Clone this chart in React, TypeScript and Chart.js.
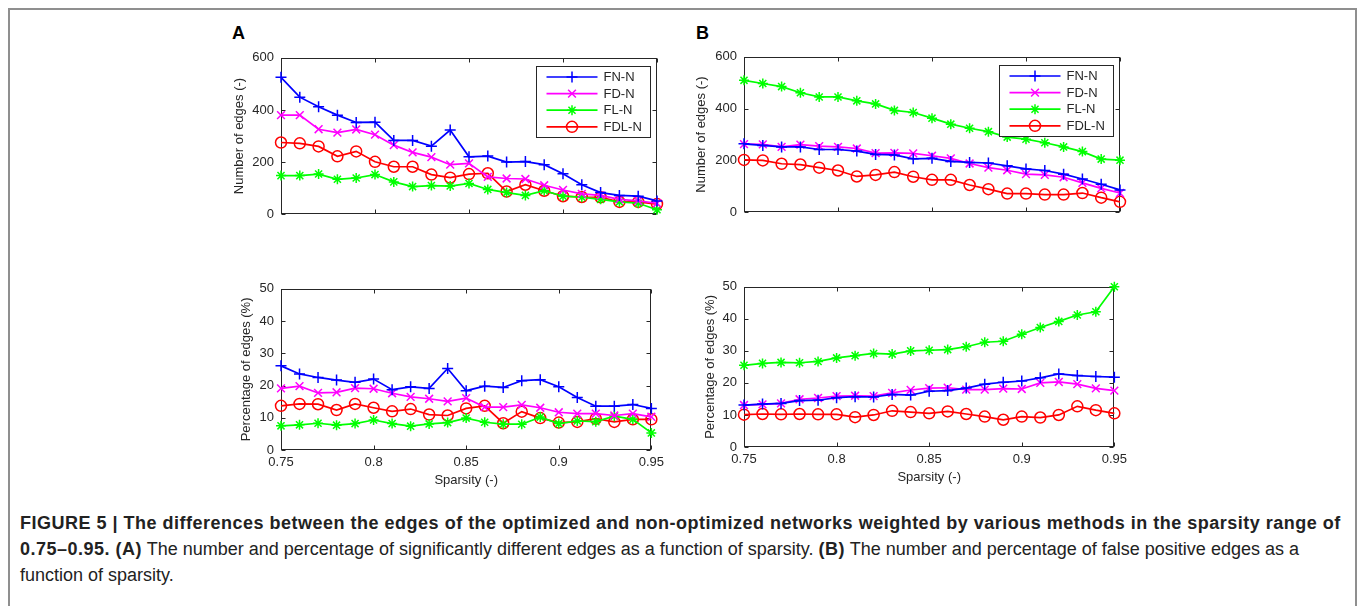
import React, { useEffect, useRef } from 'react';
import { Chart, registerables } from 'chart.js';

Chart.register(...registerables);

// ---------------- data ----------------
const sparsity = [0.75, 0.76, 0.77, 0.78, 0.79, 0.8, 0.81, 0.82, 0.83, 0.84, 0.85, 0.86, 0.87, 0.88, 0.89, 0.9, 0.91, 0.92, 0.93, 0.94, 0.95];
const xTickValues = [0.75, 0.8, 0.85, 0.9, 0.95];
const xTickLabels = ['0.75', '0.8', '0.85', '0.9', '0.95'];
const countTicks = [0, 200, 400, 600];
const pctTicks = [0, 10, 20, 30, 40, 50];
const seriesNames = ['FN-N', 'FD-N', 'FL-N', 'FDL-N'];

// Panel A – number of edges
const aCountFN = [525, 449, 412, 380, 352, 353, 283, 283, 261, 323, 220, 223, 200, 202, 190, 155, 113, 83, 72, 69, 51];
const aCountFD = [380, 380, 326, 313, 325, 305, 265, 237, 219, 190, 195, 143, 137, 135, 111, 93, 78, 72, 57, 51, 42];
const aCountFL = [148, 148, 154, 134, 139, 152, 124, 106, 110, 108, 118, 95, 83, 72, 90, 69, 65, 57, 47, 42, 17];
const aCountFDL = [275, 272, 260, 222, 241, 201, 182, 182, 152, 140, 154, 157, 87, 113, 90, 69, 66, 65, 47, 47, 39];

// Panel A – percentage of edges
const aPctFN = [26.1, 23.6, 22.5, 21.7, 21.0, 22.0, 18.7, 19.6, 19.1, 25.3, 18.4, 19.8, 19.4, 21.5, 21.8, 19.6, 16.3, 13.6, 13.6, 14.1, 12.9];
const aPctFD = [19.1, 19.8, 17.7, 17.9, 19.2, 19.0, 17.6, 16.5, 15.9, 15.1, 16.1, 13.3, 13.3, 14.0, 13.1, 11.7, 11.3, 11.3, 10.7, 11.3, 10.3];
const aPctFL = [7.5, 7.8, 8.3, 7.7, 8.2, 9.3, 8.2, 7.4, 8.1, 8.5, 9.9, 8.6, 8.0, 8.0, 10.2, 8.2, 9.0, 8.8, 10.5, 9.5, 5.3];
const aPctFDL = [13.7, 14.3, 14.2, 12.4, 14.3, 13.1, 12.0, 12.7, 11.0, 10.7, 12.9, 13.7, 8.3, 11.9, 9.9, 8.5, 8.7, 9.7, 8.7, 9.5, 9.5];

// Panel B – number of edges
const bCountFN = [264, 258, 252, 252, 242, 242, 236, 223, 221, 206, 208, 196, 192, 190, 179, 167, 161, 147, 128, 108, 86];
const bCountFD = [263, 262, 252, 261, 255, 252, 246, 228, 229, 227, 218, 208, 188, 172, 162, 147, 144, 135, 113, 92, 74];
const bCountFL = [509, 497, 485, 461, 445, 445, 430, 418, 393, 385, 363, 340, 324, 311, 290, 282, 268, 252, 234, 205, 201];
const bCountFDL = [202, 200, 187, 184, 172, 161, 138, 144, 155, 137, 125, 125, 105, 89, 72, 72, 68, 68, 74, 56, 40];

// Panel B – percentage of edges
const bPctFN = [13.1, 13.4, 13.6, 14.5, 14.6, 15.4, 15.7, 15.6, 16.4, 16.2, 17.4, 17.6, 18.4, 19.6, 20.2, 20.6, 21.6, 22.8, 22.3, 22.0, 21.8];
const bPctFD = [13.1, 13.3, 13.6, 14.9, 15.3, 15.9, 16.0, 15.9, 16.9, 17.8, 18.4, 18.5, 17.9, 17.9, 18.2, 18.1, 20.0, 20.3, 19.6, 18.3, 17.6];
const bPctFL = [25.5, 26.1, 26.4, 26.3, 26.7, 27.8, 28.5, 29.2, 29.0, 30.0, 30.2, 30.4, 31.3, 32.7, 33.0, 35.2, 37.3, 39.2, 41.2, 42.2, 50.0];
const bPctFDL = [10.1, 10.3, 10.2, 10.3, 10.2, 10.2, 9.3, 10.0, 11.3, 10.9, 10.5, 11.1, 10.3, 9.5, 8.5, 9.5, 9.2, 10.0, 12.7, 11.5, 10.5];

// ---------------- styles ----------------
const FONT = '"Liberation Sans", Arial, Helvetica, sans-serif';
const AXIS_COLOR = '#262626';
const seriesStyles = [
  { color: '#0000ff', pointStyle: 'cross', radius: 5.5 },
  { color: '#ff00ff', pointStyle: 'crossRot', radius: 5.5 },
  { color: '#00ff00', pointStyle: 'star', radius: 5 },
  { color: '#ff0000', pointStyle: 'circle', radius: 5.5 },
];

function drawMarker(ctx: CanvasRenderingContext2D, style: string, x: number, y: number, r: number) {
  ctx.beginPath();
  if (style === 'circle') {
    ctx.arc(x, y, r, 0, Math.PI * 2);
  } else {
    if (style === 'cross' || style === 'star') {
      ctx.moveTo(x, y - r); ctx.lineTo(x, y + r);
      ctx.moveTo(x - r, y); ctx.lineTo(x + r, y);
    }
    if (style === 'crossRot' || style === 'star') {
      const d = r * Math.SQRT1_2;
      ctx.moveTo(x - d, y - d); ctx.lineTo(x + d, y + d);
      ctx.moveTo(x - d, y + d); ctx.lineTo(x + d, y - d);
    }
  }
  ctx.stroke();
}

const boxPlugin = {
  id: 'matlabBox',
  beforeDatasetsDraw(chart: any) {
    const { ctx, chartArea, scales } = chart;
    const l = Math.round(chartArea.left) + 0.5;
    const r = Math.round(chartArea.right) - 0.5;
    const t = Math.round(chartArea.top) + 0.5;
    const b = Math.round(chartArea.bottom) - 0.5;
    ctx.save();
    ctx.strokeStyle = AXIS_COLOR;
    ctx.lineWidth = 1;
    ctx.strokeRect(l, t, r - l, b - t);
    const tl = 4;
    ctx.beginPath();
    scales.x.ticks.forEach((tk: any) => {
      const px = Math.round(scales.x.getPixelForValue(tk.value)) + 0.5;
      ctx.moveTo(px, b); ctx.lineTo(px, b - tl);
      ctx.moveTo(px, t); ctx.lineTo(px, t + tl);
    });
    scales.y.ticks.forEach((tk: any) => {
      const py = Math.round(scales.y.getPixelForValue(tk.value)) + 0.5;
      ctx.moveTo(l, py); ctx.lineTo(l + tl, py);
      ctx.moveTo(r, py); ctx.lineTo(r - tl, py);
    });
    ctx.stroke();
    ctx.restore();
  },
};

const legendPlugin = {
  id: 'matlabLegend',
  afterDatasetsDraw(chart: any, _args: any, opts: any) {
    if (!opts || !opts.show) return;
    const { ctx, chartArea } = chart;
    const w = 114;
    const h = 71;
    const x0 = Math.round(chartArea.right - 7 - w) + 0.5;
    const y0 = Math.round(chartArea.top + 8.5) + 0.5;
    ctx.save();
    ctx.fillStyle = '#ffffff';
    ctx.fillRect(x0, y0, w, h);
    ctx.strokeStyle = AXIS_COLOR;
    ctx.lineWidth = 1;
    ctx.strokeRect(x0, y0, w, h);
    chart.data.datasets.forEach((ds: any, i: number) => {
      const st = seriesStyles[i];
      const yy = y0 + 10.5 + i * 16.6;
      ctx.strokeStyle = st.color;
      ctx.lineWidth = 1.7;
      ctx.beginPath();
      ctx.moveTo(x0 + 10, yy); ctx.lineTo(x0 + 61, yy);
      ctx.stroke();
      ctx.lineWidth = 1.5;
      drawMarker(ctx, st.pointStyle, x0 + 35.5, yy, st.radius);
      ctx.fillStyle = AXIS_COLOR;
      ctx.font = `13px ${FONT}`;
      ctx.textBaseline = 'middle';
      ctx.textAlign = 'left';
      ctx.fillText(ds.label, x0 + 67, yy + 0.5);
    });
    ctx.restore();
  },
};

type PanelProps = {
  plotLeft: number;
  plotTop: number;
  plotW: number;
  plotH: number;
  yW: number;
  showX: boolean;
  showLegend: boolean;
  yMax: number;
  yTicks: number[];
  yTitle: string;
  series: number[][];
};

const PAD_T = 10;
const PAD_R = 12;

function Panel(p: PanelProps) {
  const ref = useRef<HTMLCanvasElement>(null);
  const xH = p.showX ? 38 : 0;
  const padB = p.showX ? 2 : 10;
  const cw = p.yW + p.plotW + PAD_R;
  const ch = PAD_T + p.plotH + xH + padB;

  useEffect(() => {
    if (!ref.current) return;
    const tickFont = { family: FONT, size: 13 };
    const chart = new Chart(ref.current, {
      type: 'line',
      data: {
        datasets: p.series.map((vals, i) => ({
          label: seriesNames[i],
          data: sparsity.map((x, j) => ({ x, y: vals[j] })),
          borderColor: seriesStyles[i].color,
          backgroundColor: seriesStyles[i].color,
          borderWidth: 1.7,
          pointStyle: seriesStyles[i].pointStyle as any,
          pointRadius: seriesStyles[i].radius,
          pointBorderWidth: 1.5,
          pointBorderColor: seriesStyles[i].color,
          pointBackgroundColor: 'rgba(0,0,0,0)',
          tension: 0,
          clip: false as any,
        })),
      },
      options: {
        responsive: false,
        animation: false,
        devicePixelRatio: 1,
        layout: { padding: { top: PAD_T, right: PAD_R, bottom: padB, left: 0 } },
        plugins: {
          legend: { display: false },
          tooltip: { enabled: false },
          matlabLegend: { show: p.showLegend },
        },
        scales: {
          x: {
            type: 'linear',
            min: 0.75,
            max: 0.95,
            grid: { display: false, drawTicks: false },
            border: { display: false },
            ticks: {
              display: p.showX,
              padding: 5,
              autoSkip: false,
              maxRotation: 0,
              color: AXIS_COLOR,
              font: tickFont,
              callback: (_v: any, i: number) => xTickLabels[i],
            },
            title: { display: p.showX, text: 'Sparsity (-)', color: AXIS_COLOR, font: tickFont, padding: 0 },
            afterBuildTicks: (s: any) => { s.ticks = xTickValues.map((v) => ({ value: v })); },
            afterFit: (s: any) => { s.height = xH; },
          },
          y: {
            type: 'linear',
            min: 0,
            max: p.yMax,
            grid: { display: false, drawTicks: false },
            border: { display: false },
            ticks: {
              padding: 7,
              autoSkip: false,
              color: AXIS_COLOR,
              font: tickFont,
              callback: (v: any) => String(v),
            },
            title: { display: true, text: p.yTitle, color: AXIS_COLOR, font: tickFont, padding: 0 },
            afterBuildTicks: (s: any) => { s.ticks = p.yTicks.map((v) => ({ value: v })); },
            afterFit: (s: any) => { s.width = p.yW; },
          },
        },
      } as any,
      plugins: [boxPlugin, legendPlugin],
    });
    return () => chart.destroy();
  }, []);

  return (
    <canvas
      ref={ref}
      width={cw}
      height={ch}
      style={{ position: 'absolute', left: p.plotLeft - p.yW, top: p.plotTop - PAD_T, width: cw, height: ch }}
    />
  );
}

export default function App() {
  const labelStyle: React.CSSProperties = {
    position: 'absolute',
    fontFamily: FONT,
    fontWeight: 'bold',
    fontSize: 18,
    lineHeight: '18px',
    color: '#000',
  };
  const boldStyle: React.CSSProperties = { fontWeight: 'bold', letterSpacing: '0.5px' };
  return (
    <div style={{ position: 'absolute', left: 0, top: 0, width: 1360, height: 606, overflow: 'hidden', background: '#fff' }}>
      <div style={{ position: 'absolute', left: 8, top: 8, width: 1349, height: 700, boxSizing: 'border-box', border: '2px solid #8f8f8f' }} />
      <div style={{ ...labelStyle, left: 232, top: 24 }}>A</div>
      <div style={{ ...labelStyle, left: 696, top: 24 }}>B</div>
      <Panel plotLeft={281} plotTop={53} plotW={376} plotH={166} yW={49} showX={false} showLegend={true} yMax={600} yTicks={countTicks} yTitle="Number of edges (-)" series={[aCountFN, aCountFD, aCountFL, aCountFDL]} />
      <Panel plotLeft={281} plotTop={284} plotW={376} plotH={166} yW={42} showX={true} showLegend={false} yMax={50} yTicks={pctTicks} yTitle="Percentage of edges (%)" series={[aPctFN, aPctFD, aPctFL, aPctFDL]} />
      <Panel plotLeft={744} plotTop={52} plotW={376} plotH={165} yW={50} showX={false} showLegend={true} yMax={600} yTicks={countTicks} yTitle="Number of edges (-)" series={[bCountFN, bCountFD, bCountFL, bCountFDL]} />
      <Panel plotLeft={744} plotTop={282} plotW={376} plotH={165} yW={41} showX={true} showLegend={false} yMax={50} yTicks={pctTicks} yTitle="Percentage of edges (%)" series={[bPctFN, bPctFD, bPctFL, bPctFDL]} />
      <div style={{ position: 'absolute', left: 20, top: 510, fontFamily: FONT, fontSize: 18, lineHeight: '26px', color: '#222', whiteSpace: 'nowrap' }}>
        <span style={boldStyle}>FIGURE 5 | The differences between the edges of the optimized and non-optimized networks weighted by various methods in the sparsity range of</span>
        <br />
        <span style={boldStyle}>0.75–0.95. (A)</span> The number and percentage of significantly different edges as a function of sparsity. <span style={boldStyle}>(B)</span> The number and percentage of false positive edges as a
        <br />
        function of sparsity.
      </div>
    </div>
  );
}
